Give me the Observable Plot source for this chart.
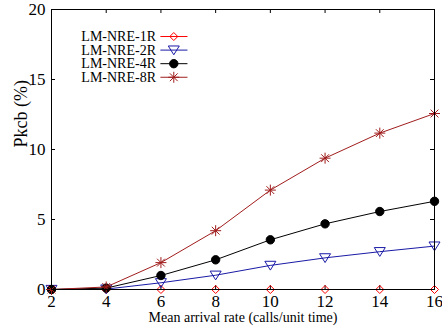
<!DOCTYPE html>
<html><head><meta charset="utf-8">
<script src="https://cdn.jsdelivr.net/npm/d3@7"></script>
<script src="https://cdn.jsdelivr.net/npm/@observablehq/plot@0.6"></script>
<style>body{margin:0;background:#fff} svg, svg text{font-family:"Liberation Serif", "DejaVu Serif", serif !important}</style>
</head><body><div id="chart"></div>
<script>
const rates = [2, 4, 6, 8, 10, 12, 14, 16];
const series1R = [0, 0, 0, 0, 0, 0, 0, 0];
const series2R = [0, 0.03, 0.48, 1.02, 1.72, 2.26, 2.7, 3.1];
const series4R = [0, 0.1, 1.0, 2.12, 3.55, 4.69, 5.57, 6.3];
const series8R = [0, 0.18, 1.92, 4.2, 7.1, 9.38, 11.17, 12.57];
const seriesNames = ["LM-NRE-1R", "LM-NRE-2R", "LM-NRE-4R", "LM-NRE-8R"];
const seriesColors = ["#ff0000", "#1a1aa6", "#000000", "#a01c1c"];
const xTicks = [2, 4, 6, 8, 10, 12, 14, 16];
const yTicks = [0, 5, 10, 15, 20];

const rad = s => Math.sqrt(s / Math.PI);
const diamond = {draw(c, s){const r = rad(s); c.moveTo(0,-r); c.lineTo(r,0); c.lineTo(0,r); c.lineTo(-r,0); c.closePath();}};
const triDown = {draw(c, s){const r = rad(s); c.moveTo(-r,-0.75*r); c.lineTo(r,-0.75*r); c.lineTo(0,0.85*r); c.closePath();}};
const star8 = {draw(c, s){const r = rad(s); const k = r*Math.SQRT1_2;
  c.moveTo(-r,0); c.lineTo(r,0); c.moveTo(0,-r); c.lineTo(0,r);
  c.moveTo(-k,-k); c.lineTo(k,k); c.moveTo(-k,k); c.lineTo(k,-k);}};
const symbols = [diamond, triDown, "circle", star8];
const radii = [4, 5.5, 4.2, 5.5];
const fills = ["none", "none", "#000000", "none"];

const allSeries = [series1R, series2R, series4R, series8R];
const data = [];
allSeries.forEach((vals, si) => vals.forEach((v, i) => data.push({x: rates[i], y: v, s: si})));

const FONT = "Liberation Serif";
const marks = [];
const tx = 4 / 14, ty = 4 / 27.36;
marks.push(Plot.ruleX(xTicks, {x: d => d, y1: 0, y2: tx, stroke: "#000"}));
marks.push(Plot.ruleX(xTicks, {x: d => d, y1: 20, y2: 20 - tx, stroke: "#000"}));
marks.push(Plot.ruleY(yTicks, {y: d => d, x1: 2, x2: 2 + ty, stroke: "#000"}));
marks.push(Plot.ruleY(yTicks, {y: d => d, x1: 16, x2: 16 - ty, stroke: "#000"}));

[0, 1, 2, 3].forEach(si => {
  const d = data.filter(p => p.s === si);
  marks.push(Plot.line(d, {x: "x", y: "y", stroke: seriesColors[si], strokeWidth: 1}));
  marks.push(Plot.dot(d, {x: "x", y: "y", symbol: () => symbols[si], r: radii[si], stroke: seriesColors[si], fill: fills[si], strokeWidth: 1}));
  const ly = 18.07 - si * 0.97;
  marks.push(Plot.text([seriesNames[si]], {x: 5.82, y: ly, text: d => d, textAnchor: "end", fontSize: 14, fontFamily: FONT, fill: "#000"}));
  marks.push(Plot.link([0], {x1: 5.98, x2: 6.97, y1: ly, y2: ly, stroke: seriesColors[si], strokeWidth: 1}));
  marks.push(Plot.dot([0], {x: 6.47, y: ly, symbol: () => symbols[si], r: radii[si], stroke: seriesColors[si], fill: fills[si], strokeWidth: 1}));
});

marks.push(Plot.frame({stroke: "#000"}));
marks.push(Plot.axisX(xTicks, {tickSize: 0, tickPadding: 5, fontSize: 17, fontFamily: FONT, label: null}));
marks.push(Plot.axisY(yTicks, {tickSize: 0, tickPadding: 6, fontSize: 17, fontFamily: FONT, label: null}));
marks.push(Plot.text(["Mean arrival rate (calls/unit time)"], {frameAnchor: "bottom", dy: 32, text: d => d, fontSize: 14, fontFamily: FONT, fill: "#000"}));
marks.push(Plot.text(["Pkcb (%)"], {y: 10.15, frameAnchor: "left", dx: -30, rotate: -90, text: d => d, fontSize: 18, fontFamily: FONT, fill: "#000"}));

const chart = Plot.plot({
  width: 442, height: 336,
  marginLeft: 51, marginRight: 8, marginTop: 9, marginBottom: 47,
  style: {fontFamily: FONT, fontSize: "14px", background: "#fff", color: "#000"},
  x: {domain: [2, 16]},
  y: {domain: [0, 20]},
  marks
});
document.getElementById("chart").appendChild(chart);
</script>
</body></html>
